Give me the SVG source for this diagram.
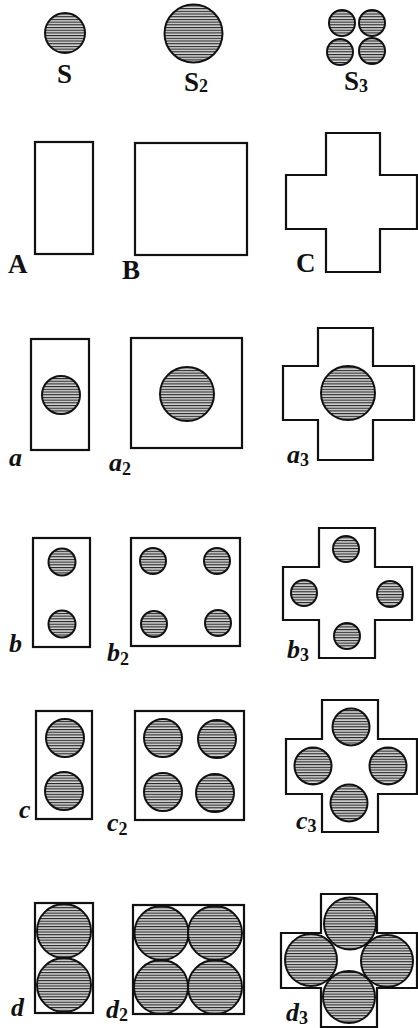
<svg xmlns="http://www.w3.org/2000/svg" width="418" height="1028" viewBox="0 0 418 1028">
<defs>
<pattern id="hatch" patternUnits="userSpaceOnUse" width="6" height="2.7">
<rect x="0" y="0" width="6" height="2.7" fill="#d6d6d6"/>
<rect x="0" y="0" width="6" height="1.1" fill="#222"/>
</pattern>
</defs>
<style>
.sh{fill:#fff;stroke:#111;stroke-width:2.2;stroke-linejoin:miter}
.c{fill:url(#hatch);stroke:#111;stroke-width:2}
.cap{font-family:"Liberation Serif",serif;font-weight:bold;font-size:27px;fill:#111}
.low{font-family:"Liberation Serif",serif;font-weight:bold;font-style:italic;font-size:26px;fill:#111}
.sub{font-size:18px;font-style:normal}
</style>
<rect width="418" height="1028" fill="#fff"/>

<g id="S">
<circle class="c" cx="65" cy="33" r="20"/>
<text class="cap" x="57" y="83">S</text>
</g>
<g id="S2">
<circle class="c" cx="193.5" cy="33.5" r="29"/>
<text class="cap" x="184" y="91">S<tspan class="sub" dy="1">2</tspan></text>
</g>
<g id="S3">
<circle class="c" cx="342" cy="23" r="13"/>
<circle class="c" cx="372" cy="23" r="13"/>
<circle class="c" cx="340" cy="52" r="13"/>
<circle class="c" cx="372" cy="51" r="13"/>
<text class="cap" x="344" y="90">S<tspan class="sub" dy="2">3</tspan></text>
</g>

<g id="A">
<rect class="sh" x="35" y="142" width="58" height="112"/>
<text class="cap" x="8" y="273">A</text>
</g>
<g id="B">
<rect class="sh" x="135" y="143" width="112" height="112"/>
<text class="cap" x="122" y="279">B</text>
</g>
<g id="C">
<polygon class="sh" points="326,133 380,133 380,175 417,175 417,229 380,229 380,272 326,272 326,229 286,229 286,175 326,175"/>
<text class="cap" x="296" y="272">C</text>
</g>

<g id="a">
<rect class="sh" x="31" y="339" width="58" height="111"/>
<circle class="c" cx="61" cy="395" r="19"/>
<text class="low" x="9" y="466">a</text>
</g>
<g id="a2">
<rect class="sh" x="131" y="338" width="111" height="110"/>
<circle class="c" cx="187" cy="394" r="27"/>
<text class="low" x="109" y="471">a<tspan class="sub" dy="4">2</tspan></text>
</g>
<g id="a3">
<polygon class="sh" points="318,328 373,328 373,366 414,366 414,420 373,420 373,460 318,460 318,420 283,420 283,366 318,366"/>
<circle class="c" cx="348" cy="393" r="27"/>
<text class="low" x="287" y="463">a<tspan class="sub" dy="3">3</tspan></text>
</g>

<g id="b">
<rect class="sh" x="33" y="538" width="57" height="109"/>
<circle class="c" cx="62" cy="562" r="13.5"/>
<circle class="c" cx="62" cy="624" r="13.5"/>
<text class="low" x="9" y="652">b</text>
</g>
<g id="b2">
<rect class="sh" x="131" y="538" width="109" height="108"/>
<circle class="c" cx="153" cy="561" r="13"/>
<circle class="c" cx="217" cy="561" r="13"/>
<circle class="c" cx="154" cy="624" r="13"/>
<circle class="c" cx="218" cy="623" r="13"/>
<text class="low" x="107" y="661">b<tspan class="sub" dy="4">2</tspan></text>
</g>
<g id="b3">
<polygon class="sh" points="319,528 375,528 375,567 412,567 412,620 375,620 375,658 319,658 319,620 283,620 283,567 319,567"/>
<circle class="c" cx="346" cy="549" r="13"/>
<circle class="c" cx="304" cy="593" r="13"/>
<circle class="c" cx="390" cy="594" r="13"/>
<circle class="c" cx="347" cy="636" r="13"/>
<text class="low" x="287" y="658">b<tspan class="sub" dy="3">3</tspan></text>
</g>

<g id="c">
<rect class="sh" x="36" y="711" width="56" height="108"/>
<circle class="c" cx="65" cy="738" r="19"/>
<circle class="c" cx="64" cy="791" r="19"/>
<text class="low" x="19" y="818">c</text>
</g>
<g id="c2">
<rect class="sh" x="135" y="711" width="109" height="109"/>
<circle class="c" cx="163" cy="738" r="19"/>
<circle class="c" cx="217" cy="739" r="19"/>
<circle class="c" cx="163" cy="792" r="19"/>
<circle class="c" cx="215" cy="793" r="19"/>
<text class="low" x="107" y="831">c<tspan class="sub" dy="4">2</tspan></text>
</g>
<g id="c3">
<polygon class="sh" points="322,700 378,700 378,739 417,739 417,794 378,794 378,832 322,832 322,794 286,794 286,739 322,739"/>
<circle class="c" cx="351" cy="727" r="18.5"/>
<circle class="c" cx="313" cy="766" r="18.5"/>
<circle class="c" cx="388" cy="766" r="18.5"/>
<circle class="c" cx="349" cy="803" r="18.5"/>
<text class="low" x="296" y="829">c<tspan class="sub" dy="3">3</tspan></text>
</g>

<g id="d">
<rect class="sh" x="35" y="903" width="58" height="110"/>
<circle class="c" cx="64" cy="931" r="27"/>
<circle class="c" cx="64" cy="985" r="27"/>
<text class="low" x="11" y="1016">d</text>
</g>
<g id="d2">
<rect class="sh" x="133" y="905" width="111" height="109"/>
<circle class="c" cx="161.5" cy="933" r="27"/>
<circle class="c" cx="215" cy="933" r="27"/>
<circle class="c" cx="161" cy="987" r="27"/>
<circle class="c" cx="215" cy="987" r="27"/>
<text class="low" x="106" y="1018">d<tspan class="sub" dy="3">2</tspan></text>
</g>
<g id="d3">
<polygon class="sh" points="321,894 377,894 377,933 417,933 417,988 377,988 377,1027 321,1027 321,988 281,988 281,933 321,933"/>
<circle class="c" cx="350" cy="923.5" r="26"/>
<circle class="c" cx="311" cy="960" r="26"/>
<circle class="c" cx="387" cy="961" r="26"/>
<circle class="c" cx="349" cy="997" r="26"/>
<text class="low" x="286" y="1021">d<tspan class="sub" dy="3">3</tspan></text>
</g>
</svg>
